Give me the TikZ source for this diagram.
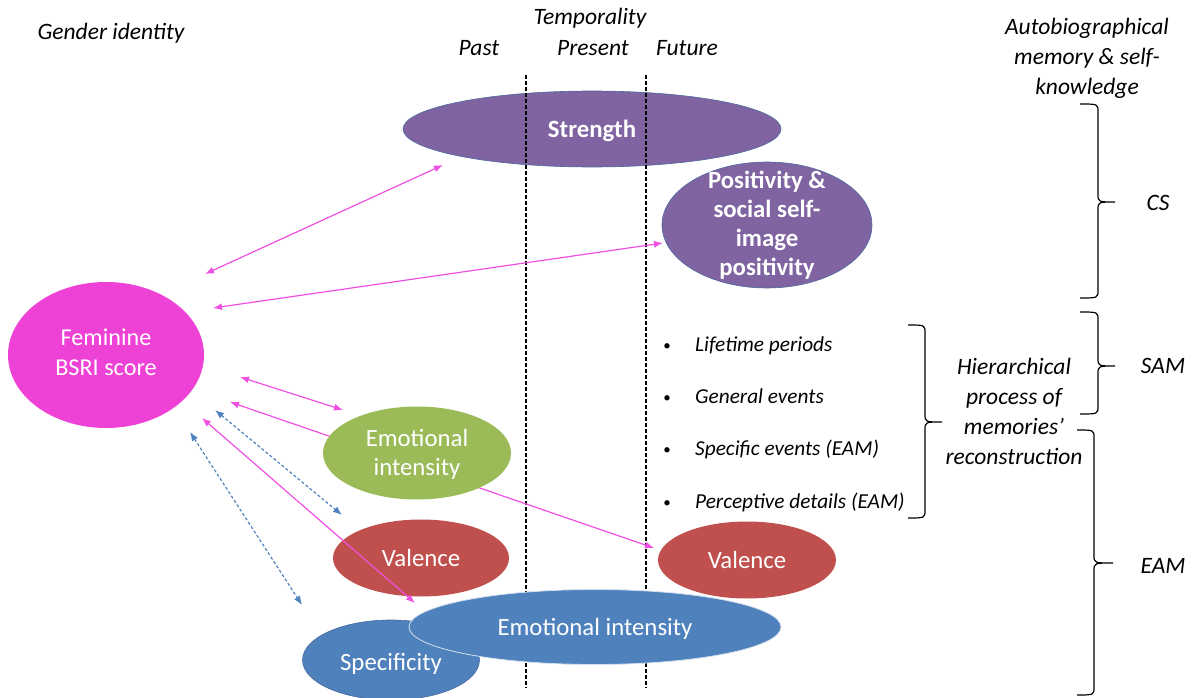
\documentclass[tikz,border=0pt]{standalone}
\usepackage{fontspec}
\setmainfont{Carlito}
\usetikzlibrary{shapes.geometric,arrows.meta}
\definecolor{cpurple}{HTML}{8064A2}
\definecolor{cgreen}{HTML}{9BBB59}
\definecolor{cred}{HTML}{C0504D}
\definecolor{cblue}{HTML}{4F81BD}
\definecolor{cmagfill}{HTML}{EE42D6}
\definecolor{cmag}{HTML}{F050E2}
\definecolor{cdash}{HTML}{4F81BD}
\definecolor{cedge}{HTML}{4A6A9E}
\newcommand{\hookbrace}[6]{%
\draw[bracestyle] (#1,#4) .. controls (#2,#4) .. (#2,#4+8) -- (#2,#5-8) .. controls (#2,#5) .. (#3,#5) .. controls (#2,#5) .. (#2,#5+8) -- (#2,#6-8) .. controls (#2,#6) .. (#1,#6);}
\begin{document}
\begin{tikzpicture}[x=1pt,y=-1pt,
  oval/.style={ellipse, inner sep=0pt, draw=none},
  ovtext/.style={text=white, align=center, inner sep=0pt, font=\fontsize{24.8}{29}\selectfont},
  ovbold/.style={ovtext, font=\fontsize{24.8}{29}\selectfont\bfseries},
  lbl/.style={font=\fontsize{23.5}{30}\selectfont\itshape, align=center, inner sep=0pt},
  itemtxt/.style={font=\fontsize{21.3}{24}\selectfont\itshape, inner sep=0pt, anchor=base west},
  bullet/.style={font=\fontsize{15}{18}\selectfont, inner sep=0pt, anchor=base},
  magarrow/.style={draw=cmag, line width=1.2pt, {Latex[length=9pt,width=7pt]}-{Latex[length=9pt,width=7pt]}},
  bluearrow/.style={draw=cdash, line width=1.2pt, dash pattern=on 3pt off 2.2pt, {Latex[length=9pt,width=7pt]}-{Latex[length=9pt,width=7pt]}},
  tline/.style={black, line width=1.5pt, dash pattern=on 4pt off 2pt},
  bracestyle/.style={black, line width=1.2pt}
]
\useasboundingbox (0,0) rectangle (1195,698);

% headers
\node[lbl] (gender) at (111,33) {Gender identity};
\node[lbl] (tempo) at (590,18) {Temporality};
\node[lbl] (past) at (479,48) {Past};
\node[lbl] (present) at (593,48) {Present};
\node[lbl] (future) at (687,48) {Future};
\node[lbl] (auto) at (1087,58) {Autobiographical\\memory \& self-\\knowledge};

% Strength ellipse (under the time lines)
\node[oval, fill=cpurple, draw=cedge, line width=0.6pt, minimum width=378pt, minimum height=76pt] (str) at (592,129) {};
\node[ovbold] (strT) at (592,131) {Strength};

% time lines
\coordinate (l1t) at (526,75);
\coordinate (l1b) at (526,688);
\coordinate (l2t) at (646,75);
\coordinate (l2b) at (646,688);
\draw[tline] (l1t) -- (l1b);
\draw[tline] (l2t) -- (l2b);

% Positivity
\node[oval, fill=cpurple, draw=cedge, line width=0.6pt, minimum width=210pt, minimum height=126pt] (pos) at (767,225) {};
\node[ovbold] (posT) at (767,225) {Positivity \&\\social self-\\image\\positivity};

% Feminine
\node[oval, fill=cmagfill, minimum width=196pt, minimum height=146pt] (fem) at (106,355) {};
\node[ovtext, font=\fontsize{24.2}{30}\selectfont] (femT) at (106,352) {Feminine\\BSRI score};

% arrow end points
\coordinate (a1s) at (205,274);
\coordinate (a1e) at (443,165);
\coordinate (a2s) at (213,308);
\coordinate (a2e) at (663,243);
\coordinate (a3s) at (240,377);
\coordinate (a3e) at (343,410);
\coordinate (a4s) at (230,402);
\coordinate (a4e) at (654,548);
\coordinate (b1s) at (215,410);
\coordinate (b1e) at (342,515);
\coordinate (a5s) at (202,418);
\coordinate (a5e) at (415,603);
\coordinate (b2s) at (190,432);
\coordinate (b2e) at (302,605);

\draw[magarrow] (a1s) -- (a1e);
\draw[magarrow] (a2s) -- (a2e);
\draw[magarrow] (a3s) -- (a3e);
\draw[magarrow] (a4s) -- (a4e);
\draw[bluearrow] (b1s) -- (b1e);
\draw[bluearrow] (b2s) -- (b2e);

% Emotional intensity (green)
\node[oval, fill=cgreen, minimum width=188pt, minimum height=93pt] (emoG) at (417,453) {};
\node[ovtext] (emoGT) at (417,454) {Emotional\\intensity};

% Valence left
\node[oval, fill=cred, minimum width=176pt, minimum height=77pt] (valL) at (421,558) {};
\node[ovtext] (valLT) at (valL) {Valence};

\draw[magarrow] (a5s) -- (a5e);

% Valence right
\node[oval, fill=cred, minimum width=178pt, minimum height=77pt] (valR) at (747,560) {};
\node[ovtext] (valRT) at (valR) {Valence};

% Specificity
\node[oval, fill=cblue, draw=cedge, line width=0.6pt, minimum width=177pt, minimum height=80pt] (spec) at (391,660) {};
\node[ovtext] (specT) at (391,664) {Specificity};

% Emotional intensity (blue)
\node[oval, fill=cblue, draw=white!75!cblue, line width=0.8pt, minimum width=372pt, minimum height=75pt] (emoB) at (595,627) {};
\node[ovtext] (emoBT) at (595,629) {Emotional intensity};

% bullet list
\node[bullet] (bu1) at (667,350) {•};
\node[itemtxt] (it1) at (695,351) {Lifetime periods};
\node[bullet] (bu2) at (667,402) {•};
\node[itemtxt] (it2) at (695,403) {General events};
\node[bullet] (bu3) at (667,454) {•};
\node[itemtxt] (it3) at (695,455) {Specific events (EAM)};
\node[bullet] (bu4) at (667,507) {•};
\node[itemtxt] (it4) at (695,508) {Perceptive details (EAM)};

% braces
\hookbrace{908}{925}{942}{325}{422}{518}
\hookbrace{1080}{1098}{1115}{104}{202}{298}
\hookbrace{1080}{1098}{1115}{312}{366}{414}
\hookbrace{1077}{1094}{1113}{430}{563}{695}

\node[lbl] (hier) at (1014,411) {Hierarchical\\process of\\memories'\\reconstruction};
\node[lbl] (cs) at (1158,203) {CS};
\node[lbl] (sam) at (1163,366) {SAM};
\node[lbl] (eam) at (1163,566) {EAM};
\end{tikzpicture}
\end{document}
